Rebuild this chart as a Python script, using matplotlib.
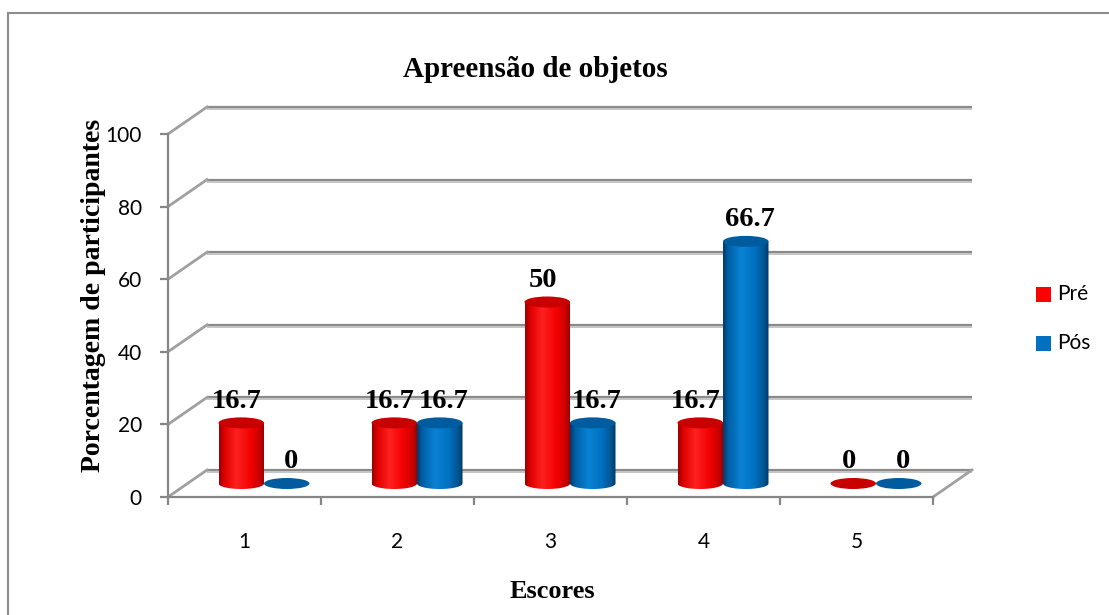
import numpy as np
import matplotlib
matplotlib.use("Agg")
import matplotlib.pyplot as plt
from matplotlib.patches import Polygon, Ellipse, Rectangle
from matplotlib.colors import LinearSegmentedColormap

# ── Data ──────────────────────────────────────────────────────────────────────
categories = ["1", "2", "3", "4", "5"]
pre = [16.7, 16.7, 50, 16.7, 0]
pos = [0, 16.7, 16.7, 66.7, 0]
series_names = ["Pré", "Pós"]
yticks = [0, 20, 40, 60, 80, 100]

# ── Style ─────────────────────────────────────────────────────────────────────
W_PX, H_PX = 1109, 615
SERIF = "Liberation Serif"
SANS = "Lato"
C_GRID = "#8a8a8a"
C_GRID_LT = "#c4c4c4"
C_AXIS = "#868686"

red_cmap = LinearSegmentedColormap.from_list(
    "red_cyl", [(0, "#9a0000"), (0.12, "#e00000"), (0.38, "#ff2020"),
                (0.7, "#f20000"), (0.9, "#c40000"), (1, "#8c0000")])
blue_cmap = LinearSegmentedColormap.from_list(
    "blue_cyl", [(0, "#003a6a"), (0.12, "#0060a6"), (0.4, "#0a82d4"),
                 (0.7, "#0070c0"), (0.9, "#00548f"), (1, "#003860")])
RED_TOP, BLUE_TOP = "#c80000", "#005c9e"
RED_LEG, BLUE_LEG = "#ff0000", "#0070c0"

fig = plt.figure(figsize=(W_PX / 100, H_PX / 100), dpi=100)
fig.patch.set_facecolor("white")

# front face of the plot box, in pixels: x 168..933, y 497 (0) .. 134 (100)
ax = fig.add_axes([168 / W_PX, 1 - 497 / H_PX, 765 / W_PX, 363 / H_PX])
ax.set_facecolor("none")

px_x = 765 / 5          # pixels per category
px_y = 363 / 100        # pixels per unit
DX = 39 / px_x          # depth offset of the back wall
DY = 27 / px_y
CYL_W = 45.5 / px_x
ELL_H = 11 / px_y

x0, x1 = 0.5, len(categories) + 0.5

# ── Walls / gridlines ─────────────────────────────────────────────────────────
for v in yticks:
    ax.plot([x0 + DX, x1 + DX], [v + DY, v + DY], color=C_GRID, lw=1.6,
            solid_capstyle="butt", clip_on=False, zorder=1)
    ax.plot([x0 + DX, x1 + DX], [v + DY - 0.55, v + DY - 0.55], color=C_GRID_LT,
            lw=1.4, solid_capstyle="butt", clip_on=False, zorder=1)
    ax.plot([x0, x0 + DX], [v, v + DY], color="#a0a0a0", lw=2.0,
            clip_on=False, zorder=1)
ax.plot([x1, x1 + DX], [0, DY], color="#a0a0a0", lw=2.0, clip_on=False, zorder=1)


def cylinder(xc, base, h, cmap, top_color, z):
    if h <= 0:
        ax.add_patch(Ellipse((xc, base), CYL_W, ELL_H, facecolor=top_color,
                             edgecolor="none", zorder=z, clip_on=False))
        return
    left, right = xc - CYL_W / 2, xc + CYL_W / 2
    top = base + h
    t = np.linspace(np.pi, 2 * np.pi, 60)
    arc = np.column_stack([xc + CYL_W / 2 * np.cos(t), base + ELL_H / 2 * np.sin(t)])
    verts = np.vstack([[left, top], arc, [right, top]])
    clip = Polygon(verts, closed=True, facecolor="none", edgecolor="none")
    ax.add_patch(clip)
    grad = np.linspace(0, 1, 256)[None, :]
    im = ax.imshow(grad, cmap=cmap, extent=[left, right, base - ELL_H / 2, top],
                   aspect="auto", origin="lower", interpolation="bilinear", zorder=z)
    im.set_clip_path(clip)
    ax.add_patch(Ellipse((xc, top), CYL_W, ELL_H, facecolor=top_color,
                         edgecolor="none", zorder=z + 0.1, clip_on=False))


def value_label(xc, y, val, dx):
    txt = f"{val:g}"
    ax.annotate(txt, (xc, y), xytext=(dx, 11), textcoords="offset points",
                ha="center", va="baseline", fontsize=20.5, fontweight="bold",
                family=SERIF, color="black", zorder=6, annotation_clip=False)


base = DY / 2
for i, (a, b) in enumerate(zip(pre, pos)):
    c = i + 1
    xr = c - CYL_W / 2 + DX / 2
    xb = c + CYL_W / 2 + DX / 2
    cylinder(xr, base, a, red_cmap, RED_TOP, 3)
    cylinder(xb, base, b, blue_cmap, BLUE_TOP, 3.5)
    value_label(xr, base + a, a, -3)
    value_label(xb, base + b, b, 3)

# ── Axes ──────────────────────────────────────────────────────────────────────
ax.set_xlim(x0, x1)
ax.set_ylim(0, 100)
for s in ["top", "right"]:
    ax.spines[s].set_visible(False)
for s in ["left", "bottom"]:
    ax.spines[s].set_color(C_AXIS)
    ax.spines[s].set_linewidth(1.6)
    ax.spines[s].set_zorder(4)

ax.set_yticks(yticks)
ax.set_yticklabels([str(v) for v in yticks], family=SANS, fontsize=15)
ax.tick_params(axis="y", direction="out", length=5.8, width=1.6, color=C_AXIS, pad=13)

ax.set_xticks(range(1, len(categories) + 1))
ax.set_xticklabels(categories, family=SANS, fontsize=15)
ax.set_xticks(np.arange(x0, x1 + 0.01, 1), minor=True)
ax.tick_params(axis="x", which="major", length=0, pad=25)
ax.tick_params(axis="x", which="minor", direction="out", length=5.8, width=1.6, color=C_AXIS)

# ── Titles ────────────────────────────────────────────────────────────────────
fig.text(535 / W_PX, 1 - 77 / H_PX, "Apreensão de objetos", ha="center", va="baseline",
         family=SERIF, fontweight="bold", fontsize=21)
fig.text(552 / W_PX, 1 - 598 / H_PX, "Escores", ha="center", va="baseline",
         family=SERIF, fontweight="bold", fontsize=19)
fig.text(94 / W_PX, 1 - 295 / H_PX, "Porcentagem de participantes", ha="center",
         va="center", rotation=90, family=SERIF, fontweight="bold", fontsize=20)

# ── Legend ────────────────────────────────────────────────────────────────────
for name, col, cy in [(series_names[0], RED_LEG, 294), (series_names[1], BLUE_LEG, 343)]:
    fig.add_artist(Rectangle((1036 / W_PX, 1 - (cy + 7.5) / H_PX), 15 / W_PX, 15 / H_PX,
                             transform=fig.transFigure, facecolor=col, edgecolor="none"))
    fig.text(1057 / W_PX, 1 - cy / H_PX, name, ha="left", va="center",
             family=SANS, fontsize=15)

# chart area border
fig.add_artist(Rectangle((8 / W_PX, -0.2), 1.2, 1 - 13 / H_PX + 0.2,
                         transform=fig.transFigure, fill=False,
                         edgecolor="#8c8c8c", lw=1.5))

fig.savefig("out.png", dpi=100, facecolor="white")
